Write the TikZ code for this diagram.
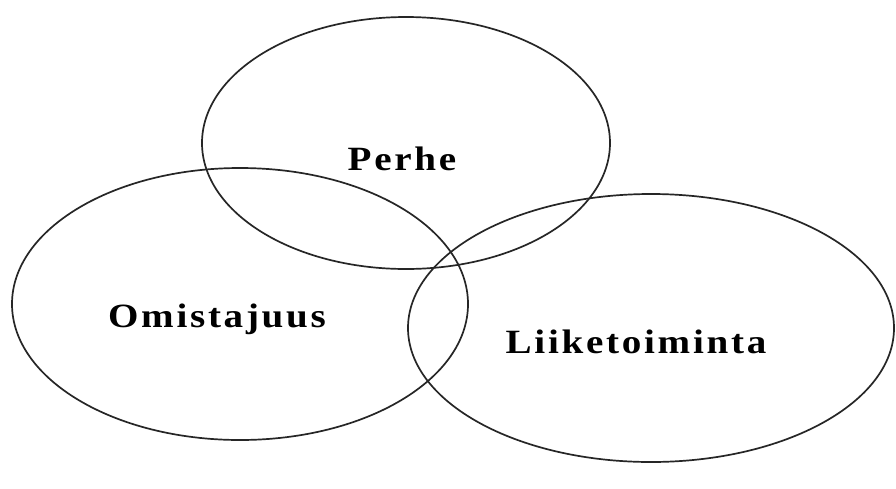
\documentclass[tikz,border=0pt]{standalone}
\usepackage{fontspec}
\setmainfont{Liberation Serif}
\newfontfamily\lblfont[LetterSpace=8,FakeStretch=1.15]{Liberation Serif}
\begin{document}
\begin{tikzpicture}[x=1pt,y=-1pt,
  circ/.style={draw=black!85, line width=1.7pt},
  lbl/.style={font=\lblfont\bfseries\fontsize{34}{38}\selectfont, text=black, inner sep=0pt, anchor=base}]
\useasboundingbox[fill=white] (0,0) rectangle (896,488);
\draw[circ] (406,143) ellipse [x radius=204, y radius=126];
\draw[circ] (240,304) ellipse [x radius=228, y radius=136];
\draw[circ] (651,328) ellipse [x radius=243, y radius=134];
\node[lbl] (perhe) at (402,170) {Perhe};
\node[lbl] (omis) at (217,327) {Omistajuus};
\node[lbl] (liik) at (636,353) {Liiketoiminta};
\end{tikzpicture}
\end{document}
